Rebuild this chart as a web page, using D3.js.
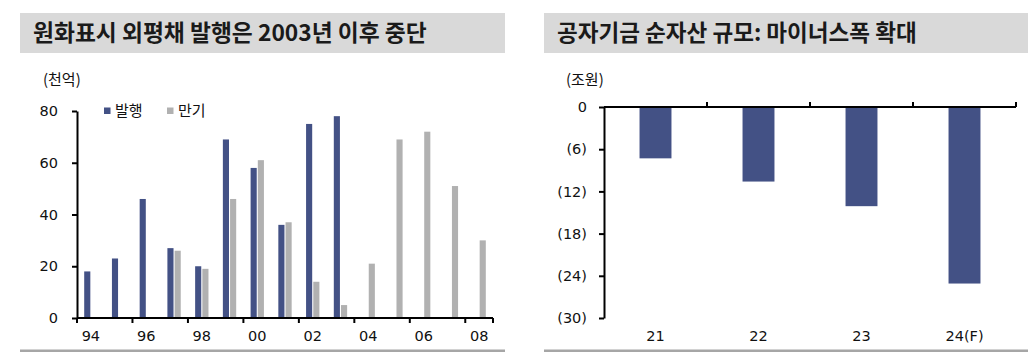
<!DOCTYPE html>
<html><head><meta charset="utf-8">
<script src="https://cdn.jsdelivr.net/npm/d3@7"></script>
<style>
html,body{margin:0;padding:0;background:#fff;}
svg{display:block;font-family:"Noto Sans CJK KR","Noto Sans",sans-serif;}
</style></head>
<body><svg id="c" width="1028" height="353"></svg>
<script>
// ---- data ----
const leftTitle = "원화표시 외평채 발행은 2003년 이후 중단";
const leftUnit = "(천억)";
const years = ["94","95","96","97","98","99","00","01","02","03","04","05","06","07","08"];
const seriesNames = ["발행","만기"];
const issuance = [18,23,46,27,20,69,58,36,75,78,0,0,0,0,0];
const maturity = [0,0,0,26,19,46,61,37,14,5,21,69,72,51,30];
const leftYTicks = [0,20,40,60,80];
const leftXLabels = ["94","96","98","00","02","04","06","08"];

const rightTitle = "공자기금 순자산 규모: 마이너스폭 확대";
const rightUnit = "(조원)";
const rightCats = ["21","22","23","24(F)"];
const netAssets = [-7.3,-10.6,-14.1,-25.1];
const rightYTicks = [0,-6,-12,-18,-24,-30];

const colors = {"발행":"#435185","만기":"#b1b1b1"};
const numFont = "'DejaVu Sans', sans-serif";
const numSize = 14.5;

const svg = d3.select("#c");

function titleBand(x0,x1,tx,targetW,text){
  svg.append("rect").attr("x",x0).attr("y",13).attr("width",x1-x0).attr("height",40).attr("fill","#d9d9d9");
  const t = svg.append("text").attr("x",tx).attr("y",41).attr("font-size",21).attr("font-weight",700)
    .attr("fill","#1a1a1a").text(text);
  const w = t.node().getComputedTextLength();
  t.attr("font-size", 21*targetW/w);
}
function bottomRule(x0,x1){
  svg.append("rect").attr("x",x0).attr("y",349.5).attr("width",x1-x0).attr("height",2.5).attr("fill","#a6a6a6");
}
function styleAxisText(g){
  g.attr("font-family",numFont).attr("font-size",numSize);
  g.selectAll("text").attr("fill","#111");
}

// ---------- LEFT ----------
titleBand(20,505,33,394,leftTitle);
bottomRule(20,505);
svg.append("text").attr("x",43).attr("y",80).attr("dy","0.35em").attr("font-size",15).attr("fill","#111").text(leftUnit);

const xL = d3.scaleBand().domain(years).range([77,493]).padding(0);
const xS = d3.scaleBand().domain(seriesNames).range([0,xL.bandwidth()]).paddingInner(0.15).paddingOuter(1.0);
const yL = d3.scaleLinear().domain([0,80]).range([318,111]);

const rows = years.map((y,i)=>({year:y, "발행":issuance[i], "만기":maturity[i]}));
const gBars = svg.append("g");
rows.forEach(r=>{
  seriesNames.forEach(s=>{
    if(r[s]>0){
      gBars.append("rect").attr("x",xL(r.year)+xS(s)).attr("width",xS.bandwidth())
        .attr("y",yL(r[s])).attr("height",yL(0)-yL(r[s])).attr("fill",colors[s]);
    }
  });
});

const yAxL = svg.append("g").attr("transform","translate(77,0)")
  .call(d3.axisLeft(yL).tickValues(leftYTicks).tickSize(5).tickPadding(14).tickSizeOuter(0));
yAxL.select(".domain").attr("stroke","#000").attr("stroke-width",2);
yAxL.selectAll(".tick line").attr("stroke","#000").attr("stroke-width",2);
styleAxisText(yAxL);

const xAxL = svg.append("g").attr("transform","translate(0,318)")
  .call(d3.axisBottom(xL).tickValues(leftXLabels).tickSize(0).tickPadding(13).tickSizeOuter(0));
xAxL.select(".domain").remove();
styleAxisText(xAxL);
// baseline and boundary ticks
svg.append("line").attr("x1",xL.range()[0]).attr("x2",xL.range()[1]).attr("y1",318).attr("y2",318).attr("stroke","#000").attr("stroke-width",2);
const leftTickPos = leftXLabels.map(l=>xL(l)).concat([xL.range()[1]]);
svg.selectAll(".ltick").data(leftTickPos).join("line").attr("class","ltick")
  .attr("x1",d=>d).attr("x2",d=>d).attr("y1",318).attr("y2",323).attr("stroke","#000").attr("stroke-width",2);

// legend
seriesNames.forEach((s,i)=>{
  const lx = [104,167][i];
  svg.append("rect").attr("x",lx).attr("y",107.5).attr("width",6.5).attr("height",6.5).attr("fill",colors[s]);
  svg.append("text").attr("x",lx+11).attr("y",111).attr("dy","0.35em").attr("font-size",15).attr("fill","#111").text(s);
});

// ---------- RIGHT ----------
titleBand(544,1028,557,360,rightTitle);
bottomRule(544,1028);
svg.append("text").attr("x",566).attr("y",80).attr("dy","0.35em").attr("font-size",15).attr("fill","#111").text(rightUnit);

const xR = d3.scaleBand().domain(rightCats).range([604,1016]).padding(0);
const yR = d3.scaleLinear().domain([-30,0]).range([318,107]);
const barFrac = 0.31;

svg.append("g").selectAll("rect").data(rightCats.map((c,i)=>({c,v:netAssets[i]}))).join("rect")
  .attr("x",d=>xR(d.c)+xR.bandwidth()*(1-barFrac)/2).attr("width",xR.bandwidth()*barFrac)
  .attr("y",yR(0)).attr("height",d=>yR(d.v)-yR(0)).attr("fill","#435185");

const fmtR = v => v===0 ? "0" : "(" + Math.abs(v) + ")";
const yAxR = svg.append("g").attr("transform","translate(604,0)")
  .call(d3.axisLeft(yR).tickValues(rightYTicks).tickFormat(fmtR).tickSize(5).tickPadding(12).tickSizeOuter(0));
yAxR.select(".domain").attr("stroke","#000").attr("stroke-width",2);
yAxR.selectAll(".tick line").attr("stroke","#000").attr("stroke-width",2);
styleAxisText(yAxR);

// zero line with upward ticks at category boundaries
svg.append("line").attr("x1",xR.range()[0]).attr("x2",xR.range()[1]).attr("y1",yR(0)).attr("y2",yR(0)).attr("stroke","#000").attr("stroke-width",2);
const rightTickPos = rightCats.slice(1).map(c=>xR(c)).concat([xR.range()[1]]);
svg.selectAll(".rtick").data(rightTickPos).join("line").attr("class","rtick")
  .attr("x1",d=>d).attr("x2",d=>d).attr("y1",yR(0)).attr("y2",yR(0)-5).attr("stroke","#000").attr("stroke-width",2);

const xAxR = svg.append("g").attr("transform","translate(0,318)")
  .call(d3.axisBottom(xR).tickSize(0).tickPadding(13).tickSizeOuter(0));
xAxR.select(".domain").remove();
styleAxisText(xAxR);
</script></body></html>
